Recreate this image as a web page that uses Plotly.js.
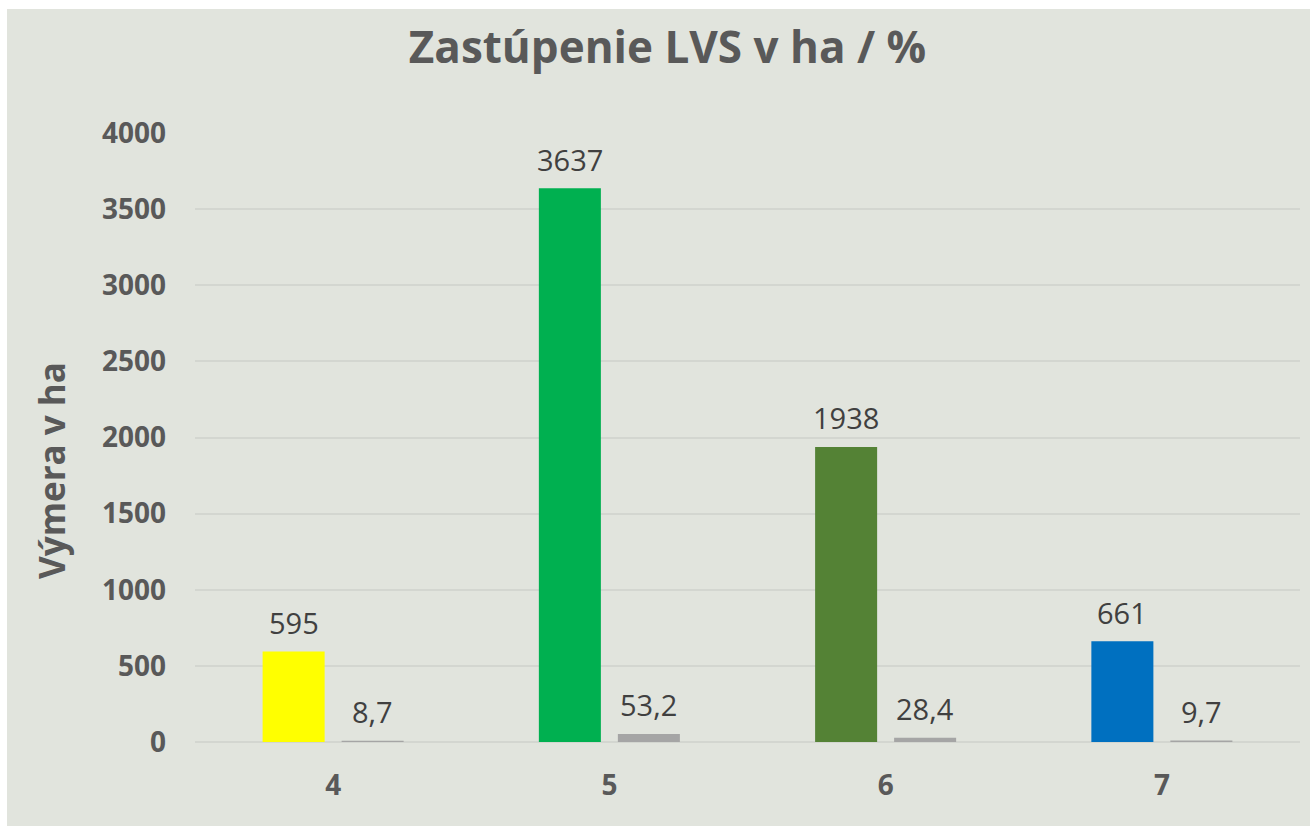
<!DOCTYPE html>
<html>
<head>
<meta charset="utf-8">
<script src="https://cdn.plot.ly/plotly-3.0.1.min.js"></script>
<style>
  html, body { margin: 0; padding: 0; background: #ffffff; }
  #chart { position: absolute; left: 7px; top: 9px; width: 1303px; height: 817px; }
</style>
</head>
<body>
<div id="chart"></div>
<script>
// Data
const categories = ['4', '5', '6', '7'];
const areaHa = [595, 3637, 1938, 661];
const sharePct = [8.7, 53.2, 28.4, 9.7];
const areaColors = ['#FFFF00', '#00B050', '#548235', '#0070C0'];
const pctColor = '#A5A5A5';
const tickVals = [0, 500, 1000, 1500, 2000, 2500, 3000, 3500, 4000];

const FONT = '"Open Sans", "Noto Sans", sans-serif';
const fmt = v => String(v).replace('.', ',');

const traces = [
  {
    type: 'bar', x: categories, y: areaHa, name: 'ha',
    marker: { color: areaColors }, hoverinfo: 'x+y'
  },
  {
    type: 'bar', x: categories, y: sharePct, name: '%',
    marker: { color: pctColor }, hoverinfo: 'x+y'
  }
];

const annotations = [];
categories.forEach((c, i) => {
  // category axis: annotation x given as the category index
  annotations.push({
    x: i, y: areaHa[i], xref: 'x', yref: 'y', text: fmt(areaHa[i]),
    showarrow: false, xshift: -39.5, yshift: 29, yanchor: 'middle',
    font: { family: FONT, size: 29, color: '#404040' }
  });
  annotations.push({
    x: i, y: sharePct[i], xref: 'x', yref: 'y', text: fmt(sharePct[i]),
    showarrow: false, xshift: 39.5, yshift: 29, yanchor: 'middle',
    font: { family: FONT, size: 29, color: '#404040' }
  });
});
// y-axis title (placed like the reference, slightly below plot centre)
annotations.push({
  xref: 'paper', yref: 'paper', x: -143 / 1105, y: 0.445,
  xanchor: 'center', yanchor: 'middle', textangle: -90, showarrow: false,
  text: '<b>Výmera v ha</b>',
  font: { family: FONT, size: 35, color: '#595959' }
});

const layout = {
  width: 1303, height: 817,
  paper_bgcolor: '#E1E4DD', plot_bgcolor: '#E1E4DD',
  margin: { l: 188, r: 10, t: 124, b: 84 },
  separators: ', ',
  showlegend: false,
  barmode: 'group', bargap: 0.428, bargroupgap: 0.215,
  title: {
    text: '<b>Zastúpenie LVS v ha / %</b>',
    x: 0.5 + 9 / 1303, xref: 'container', xanchor: 'center',
    y: 1 - 39 / 817, yref: 'container', yanchor: 'middle',
    font: { family: FONT, size: 44, color: '#595959' }
  },
  xaxis: {
    type: 'category',
    showgrid: false, zeroline: false, showline: false,
    ticks: '', ticklabelstandoff: 24,
    tickfont: { family: FONT, size: 28, color: '#595959', weight: 'bold' }
  },
  yaxis: {
    range: [0, 4000], tickvals: tickVals, tickformat: 'd',
    showgrid: true, gridcolor: '#D3D6D0', gridwidth: 2,
    zeroline: true, zerolinecolor: '#D3D6D0', zerolinewidth: 2,
    showline: false, ticks: '', ticklabelstandoff: 28,
    tickfont: { family: FONT, size: 28, color: '#595959', weight: 'bold' }
  },
  annotations: annotations
};

Plotly.newPlot('chart', traces, layout, { displayModeBar: false, staticPlot: true });
</script>
</body>
</html>
